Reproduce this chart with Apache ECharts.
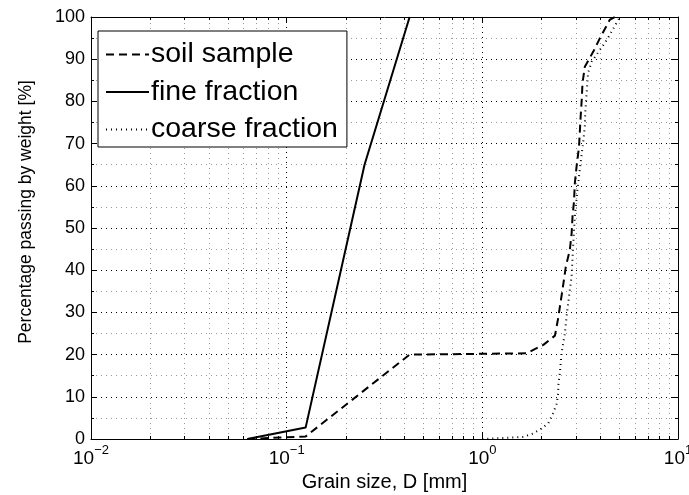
<!DOCTYPE html>
<html>
<head>
<meta charset="utf-8">
<script src="https://cdn.jsdelivr.net/npm/echarts@6/dist/echarts.min.js"></script>
<style>
html,body{margin:0;padding:0;background:#fff;}
#chart{width:689px;height:495px;}
</style>
</head>
<body>
<div id="chart"></div>
<script>
// ---- data (grain size in mm, percentage passing) ----
const soilSize    = [0.063, 0.125, 0.425, 1.68, 2.05, 2.35, 2.44, 2.59, 2.67, 2.80, 2.86, 2.89, 2.94, 2.97, 3.03, 3.09, 3.12, 3.15, 3.18, 3.22, 3.25, 3.34, 3.69, 3.99, 4.49, 4.75];
const soilPass    = [0,     0.6,   20,    20.3, 22.3, 24.5, 28.6, 36.5, 40.8, 44.8, 48.7, 52.7, 56.2, 60.6, 64.5, 67.7, 69.3, 72.8, 76.4, 80.3, 84.3, 88.2, 91.8, 95,   99.4, 100];
const fineSize    = [0.063, 0.125, 0.25, 0.425];
const finePass    = [0,     2.7,   65,   100];
const coarseSize  = [1.0, 1.62, 1.82, 2.01, 2.17, 2.30, 2.40, 2.44, 2.45, 2.49, 2.54, 2.59, 2.64, 2.70, 2.80, 2.86, 2.91, 2.97, 3.06, 3.17, 3.28, 3.34, 3.36, 3.47, 3.62, 4.32, 5.05];
const coarsePass  = [0,   0.5,  1.3,  2.5,  3.7,  6.1,  8.4,  10.8, 13.2, 15.6, 20.3, 22.7, 25,   29.4, 35.3, 38.5, 45.6, 52.7, 59,   65,   70.5, 74,   77.6, 86.7, 89.4, 94.5, 100];
const seriesNames = ['soil sample', 'fine fraction', 'coarse fraction'];
const xMinorTicks = [0.02,0.03,0.04,0.05,0.06,0.07,0.08,0.09,0.2,0.3,0.4,0.5,0.6,0.7,0.8,0.9,2,3,4,5,6,7,8,9];
const yTicks = { min: 0, max: 100, interval: 10 };
const xRange = { min: 0.01, max: 10 };
const xTitle = 'Grain size, D [mm]';
const yTitle = 'Percentage passing by weight [%]';

const FONT = 'Liberation Sans, Arial, Helvetica, sans-serif';
const zip = (a, b) => a.map((v, i) => [v, b[i]]);

const chart = echarts.init(document.getElementById('chart'), null, { renderer: 'canvas' });

const xLabelFmt = v => {
  const e = Math.round(Math.log10(v));
  return '{b|10}{s|' + (e < 0 ? '\u2212' : '') + Math.abs(e) + '}';
};

const baseX = {
  type: 'log', logBase: 10, min: xRange.min, max: xRange.max,
  axisLine: { show: true, onZero: false, lineStyle: { color: '#000', width: 1 } },
  axisTick: { show: true, inside: true, length: 6, lineStyle: { color: '#000' } },
  splitLine: { show: false },
  minorTick: { show: false }
};
const baseY = {
  type: 'value', min: yTicks.min, max: yTicks.max, interval: yTicks.interval,
  axisLine: { show: true, lineStyle: { color: '#000', width: 1 } },
  axisTick: { show: true, inside: true, length: 6, lineStyle: { color: '#000' } },
  minorTick: { show: true, splitNumber: 2, length: 3, lineStyle: { color: '#000' } },
  splitLine: { show: false },
  minorSplitLine: { show: false }
};

const option = {
  animation: false,
  backgroundColor: '#fff',
  grid: { left: 91, right: 11, top: 17, bottom: 56, containLabel: false, outerBoundsMode: 'none' },
  xAxis: [
    Object.assign({}, baseX, {
      position: 'bottom',
      name: xTitle, nameLocation: 'middle', nameGap: 33,
      nameTextStyle: { fontFamily: FONT, fontSize: 20, color: '#000' },
      splitLine: { show: true, lineStyle: { color: '#000', width: 1, type: [1, 4] } },
      axisLabel: {
        show: true, margin: 5, formatter: xLabelFmt, color: '#000',
        rich: {
          b: { fontFamily: FONT, fontSize: 19, color: '#000', padding: [5, 0, 0, 0] },
          s: { fontFamily: FONT, fontSize: 13, color: '#000', verticalAlign: 'top' }
        }
      }
    }),
    Object.assign({}, baseX, { position: 'top', axisLabel: { show: false } })
  ],
  yAxis: [
    Object.assign({}, baseY, {
      position: 'left',
      name: yTitle, nameLocation: 'middle', nameGap: 56, nameRotate: 90,
      nameTextStyle: { fontFamily: FONT, fontSize: 17.5, color: '#000', padding: [0, 0, 0, 32] },
      splitLine: { show: true, lineStyle: { color: '#000', width: 1, type: [1, 4] } },
      minorSplitLine: { show: true, lineStyle: { color: '#999', width: 1, type: [1, 4] } },
      axisLabel: { show: true, margin: 6, fontFamily: FONT, fontSize: 18, color: '#000' }
    }),
    Object.assign({}, baseY, { position: 'right', axisLabel: { show: false } })
  ],
  legend: {
    show: true,
    data: seriesNames,
    orient: 'vertical',
    left: 98, top: 31,
    padding: [8, 9, 2, 7],
    itemGap: 6.5,
    itemWidth: 43, itemHeight: 14,
    backgroundColor: '#fff',
    borderColor: '#000', borderWidth: 1, borderRadius: 0,
    itemStyle: { opacity: 0 },
    textStyle: { fontFamily: FONT, fontSize: 28.5, color: '#000', padding: [0, 0, 0, -3], lineHeight: 31 }
  },
  series: [
    {
      name: 'minor grid', type: 'custom', xAxisIndex: 0, yAxisIndex: 0,
      silent: true, z: 1,
      data: xMinorTicks.map(v => [v]),
      renderItem: (params, api) => {
        const v = api.value(0);
        const b = api.coord([v, yTicks.min]);
        const t = api.coord([v, yTicks.max]);
        const x = Math.round(b[0]) + 0.5;
        return {
          type: 'group',
          children: [
            { type: 'line', shape: { x1: x, y1: b[1], x2: x, y2: t[1] }, style: { stroke: '#999', lineWidth: 1, lineDash: [1, 4] } },
            { type: 'line', shape: { x1: x, y1: b[1], x2: x, y2: b[1] - 3 }, style: { stroke: '#000', lineWidth: 1 } },
            { type: 'line', shape: { x1: x, y1: t[1], x2: x, y2: t[1] + 3 }, style: { stroke: '#000', lineWidth: 1 } }
          ]
        };
      }
    },
    {
      name: seriesNames[0], type: 'line', data: zip(soilSize, soilPass),
      symbol: 'none', z: 3,
      lineStyle: { color: '#000', width: 2, type: [8, 5] }, itemStyle: { color: '#000' }
    },
    {
      name: seriesNames[1], type: 'line', data: zip(fineSize, finePass),
      symbol: 'none', z: 3,
      lineStyle: { color: '#000', width: 2, type: 'solid' }, itemStyle: { color: '#000' }
    },
    {
      name: seriesNames[2], type: 'line', data: zip(coarseSize, coarsePass),
      symbol: 'none', z: 3,
      lineStyle: { color: '#000', width: 2, type: [1, 4] }, itemStyle: { color: '#000' }
    }
  ]
};
chart.setOption(option);
</script>
</body>
</html>
